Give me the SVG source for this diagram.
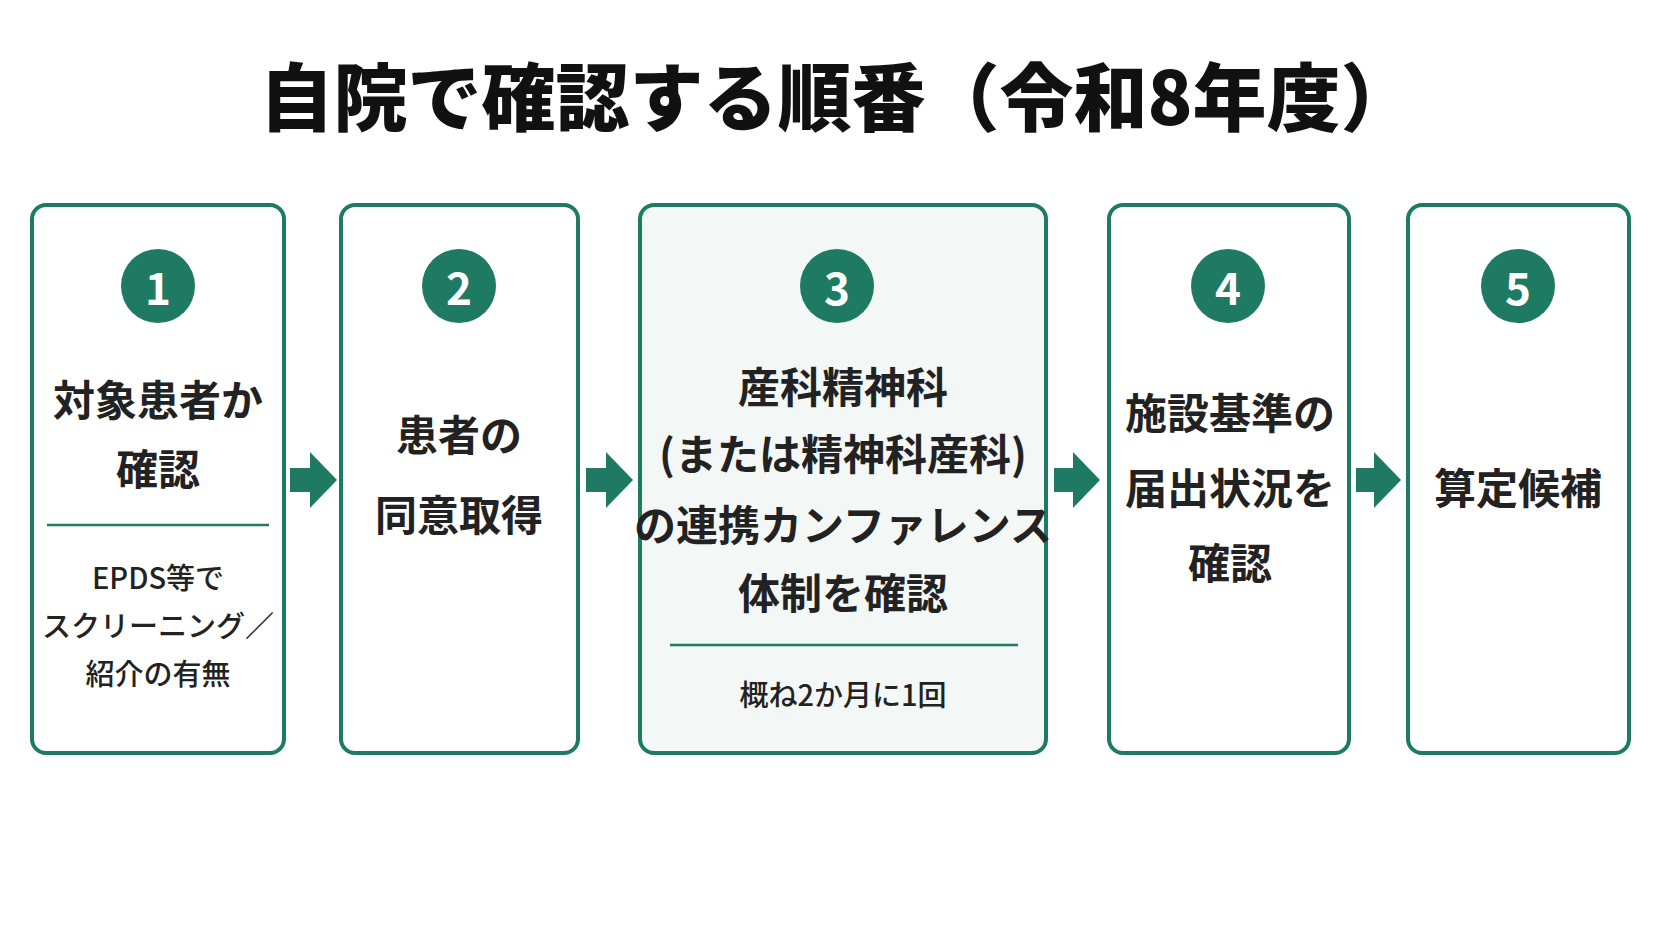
<svg xmlns="http://www.w3.org/2000/svg" width="1672" height="941" viewBox="0 0 1672 941">
<style>
.box{fill:#fff;stroke:#1f7a64;stroke-width:4}
.c{fill:#1f7a64}
.n{fill:#fff;font:bold 44px "Noto Sans CJK JP",sans-serif;text-anchor:middle;dominant-baseline:central}
.t{fill:#222;font:bold 42px "Noto Sans CJK JP",sans-serif;text-anchor:middle;dominant-baseline:central}
.s{fill:#222;font:500 29px "Noto Sans CJK JP",sans-serif;text-anchor:middle;dominant-baseline:central}
.d{stroke:#1f7a64;stroke-width:2.5}
</style>
<rect width="1672" height="941" fill="#fff"/>
<text x="837" y="92" style="fill:#111;font:900 74px 'Noto Sans CJK JP',sans-serif;text-anchor:middle;dominant-baseline:central">自院で確認する順番（令和8年度）</text>
<g id="node1"><rect class="box" x="32" y="205" width="252" height="548" rx="14"/><circle class="c" cx="158" cy="286" r="37"/><text class="n" x="158" y="286">1</text>
<text class="t" x="158" y="397">対象患者か</text><text class="t" x="158" y="466">確認</text><line class="d" x1="47" y1="525" x2="269" y2="525"/>
<text class="s" x="158" y="576">EPDS等で</text><text class="s" x="158" y="624">スクリーニング／</text><text class="s" x="158" y="672">紹介の有無</text></g>
<g id="node2"><rect class="box" x="341" y="205" width="237" height="548" rx="14"/><circle class="c" cx="459" cy="286" r="37"/><text class="n" x="459" y="286">2</text>
<text class="t" x="459" y="432">患者の</text><text class="t" x="459" y="512">同意取得</text></g>
<g id="node3"><rect class="box" x="640" y="205" width="406" height="548" rx="14" style="fill:#f3f7f5"/><circle class="c" cx="837" cy="286" r="37"/><text class="n" x="837" y="286">3</text>
<text class="t" x="843" y="384">産科精神科</text><text class="t" x="843" y="451">(または精神科産科)</text><text class="t" x="843" y="522">の連携カンファレンス</text><text class="t" x="843" y="590">体制を確認</text>
<line class="d" x1="670" y1="645" x2="1018" y2="645"/><text class="s" x="843" y="693">概ね2か月に1回</text></g>
<g id="node4"><rect class="box" x="1109" y="205" width="240" height="548" rx="14"/><circle class="c" cx="1228" cy="286" r="37"/><text class="n" x="1228" y="286">4</text>
<text class="t" x="1230" y="410">施設基準の</text><text class="t" x="1230" y="485">届出状況を</text><text class="t" x="1230" y="560">確認</text></g>
<g id="node5"><rect class="box" x="1408" y="205" width="221" height="548" rx="14"/><circle class="c" cx="1518" cy="286" r="37"/><text class="n" x="1518" y="286">5</text>
<text class="t" x="1518" y="485">算定候補</text></g>
<g id="connectors" fill="#1f7a64">
<polygon points="290,468 310,468 310,452 337,480 310,508 310,492 290,492"/>
<polygon points="586,468 606,468 606,452 633,480 606,508 606,492 586,492"/>
<polygon points="1054,468 1073,468 1073,452 1100,480 1073,508 1073,492 1054,492"/>
<polygon points="1356,468 1374,468 1374,452 1401,480 1374,508 1374,492 1356,492"/>
</g>
</svg>
